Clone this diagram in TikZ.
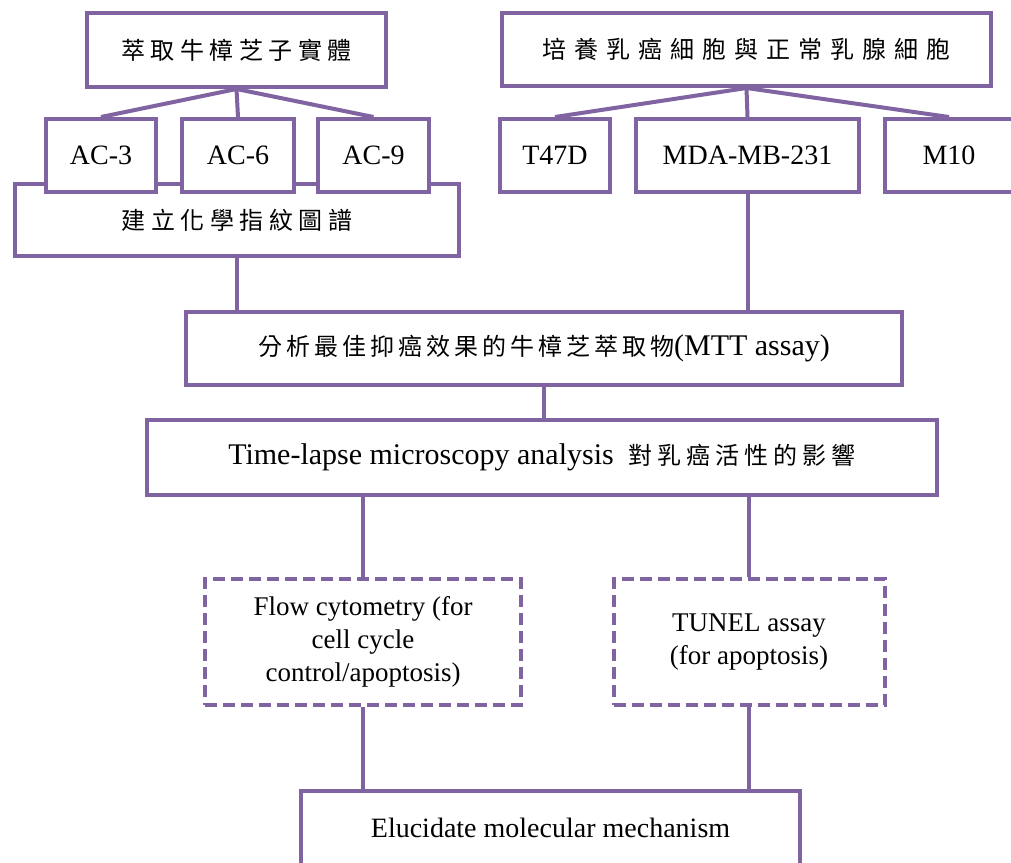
\documentclass[tikz,border=0pt]{standalone}
\usepackage{fontspec}
\setmainfont{Liberation Serif}
\newfontfamily\cjk{Noto Sans CJK TC}
\definecolor{linkpurple}{RGB}{128,100,162}

% spaced CJK text
\newlength\cjgap
\newcommand\cjfirst[1]{#1\cjloop}
\newcommand\cjloop[1]{\ifx\relax#1\else\hspace{\cjgap}#1\expandafter\cjloop\fi}
\newcommand\cj[2][5pt]{{\cjk\fontsize{24}{28}\selectfont\setlength\cjgap{#1}\cjfirst#2\relax}}

\begin{document}
\begin{tikzpicture}[
    x=1pt, y=-1pt,
    block/.style={rectangle, draw=linkpurple, line width=4pt, fill=white, inner sep=0pt, minimum height=73pt, font=\fontsize{28}{34}\selectfont},
    bigblock/.style={block, font=\fontsize{30}{36}\selectfont},
    dashblock/.style={block, dash pattern=on 12pt off 6pt, align=center, minimum height=126pt, font=\fontsize{27}{33}\selectfont},
    link/.style={draw=linkpurple, line width=4pt}
]
\path[fill=white] (0,0) rectangle (1011,862);
\useasboundingbox (0,0) rectangle (1011,862);

% top rows
\node[block, minimum width=299pt, minimum height=74pt] (extract) at (236.5,50) {\cj[5.5pt]{萃取牛樟芝子實體}};
\node[block, minimum width=489pt] (culture) at (746.5,49.5) {\cj[8pt]{培養乳癌細胞與正常乳腺細胞}};

\node[block, minimum width=444pt, minimum height=72pt] (finger) at (237,220) {\cj[5.5pt]{建立化學指紋圖譜}};
\node[block, minimum width=110pt] (ac3) at (101,155.5) {AC-3};
\node[block, minimum width=112pt] (ac6) at (238,155.5) {AC-6};
\node[block, minimum width=111pt] (ac9) at (373.5,155.5) {AC-9};

\node[block, minimum width=110pt] (t47d) at (555,155.5) {T47D};
\node[block, minimum width=223pt] (mda) at (747.5,155.5) {MDA-MB-231};
\node[block, minimum width=128pt] (m10) at (949,155.5) {M10};

% middle
\node[bigblock, minimum width=716pt] (mtt) at (544,348.5) {\cj[4pt]{分析最佳抑癌效果的牛樟芝萃取物}(MTT assay)};
\node[bigblock, minimum width=790pt, minimum height=75pt] (timelapse) at (542,457.5) {Time-lapse microscopy analysis\ \ \cj[5pt]{對乳癌活性的影響}};

% assays
\node[dashblock, minimum width=316pt] (flow) at (363,642) {Flow cytometry (for\\cell cycle\\control/apoptosis)};
\node[dashblock, minimum width=271pt] (tunel) at (749,642) {TUNEL assay\\(for apoptosis)};

\node[block, minimum width=499pt, minimum height=74pt] (mech) at (550.5,828) {Elucidate molecular mechanism};

% connectors
\foreach \n in {ac3,ac6,ac9}
    \draw[link] (extract.south) -- (\n.north);
\foreach \n in {t47d,mda,m10}
    \draw[link] (culture.south) -- (\n.north);

\draw[link] (finger.south) -- (finger.south |- mtt.north);
\draw[link] (mda.south) -- (mda.south |- mtt.north);
\draw[link] (mtt.south) -- (mtt.south |- timelapse.north);
\draw[link] (flow.north |- timelapse.south) -- (flow.north);
\draw[link] (tunel.north |- timelapse.south) -- (tunel.north);
\draw[link] (flow.south) -- (flow.south |- mech.north);
\draw[link] (tunel.south) -- (tunel.south |- mech.north);

\end{tikzpicture}
\end{document}
